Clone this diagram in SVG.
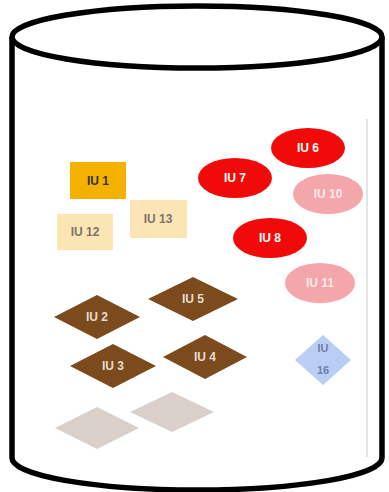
<svg xmlns="http://www.w3.org/2000/svg" width="389" height="492" viewBox="0 0 389 492">
<style>
.cyl{fill:none;stroke:#000;stroke-width:5.5}
text{font-family:"Liberation Sans",Arial,sans-serif;font-size:12px;font-weight:bold;text-anchor:middle;dominant-baseline:central}
.red{fill:#F00A0A}
.pink{fill:#F4A7AA}
.brown{fill:#7B4B1E}
.ghost{fill:#D9D0CB}
.wt{fill:#fff}
.pt{fill:#FCE9EA}
.bt{fill:#E8DCCF}
.dt{fill:#3a3020}
.gt{fill:#7a7468}
</style>
<rect width="389" height="492" fill="#fff"/>
<g id="cylinder">
<path class="cyl" d="M12,37 L12,458 A185,32 0 0 0 382,458 L382,37"/>
<ellipse class="cyl" cx="197" cy="37" rx="185" ry="31"/>
</g>
<line x1="367" y1="119" x2="367" y2="457" stroke="#dcdcdc" stroke-width="1.5"/>
<g id="connectors"></g>
<g id="IU1"><rect x="70" y="162" width="56" height="37" fill="#F5B100"/><text class="dt" x="98" y="181">IU 1</text></g>
<g id="IU12"><rect x="57" y="214" width="56" height="36" fill="#FCE5B4"/><text class="gt" x="85" y="232">IU 12</text></g>
<g id="IU13"><rect x="130" y="200" width="57" height="38" fill="#FCE5B4"/><text class="gt" x="158" y="219">IU 13</text></g>
<g id="IU6"><ellipse class="red" cx="308" cy="148" rx="37" ry="20"/><text class="wt" x="308" y="148">IU 6</text></g>
<g id="IU7"><ellipse class="red" cx="235" cy="178" rx="37" ry="20"/><text class="wt" x="235" y="178">IU 7</text></g>
<g id="IU10"><ellipse class="pink" cx="328" cy="194" rx="35" ry="20"/><text class="pt" x="328" y="194">IU 10</text></g>
<g id="IU8"><ellipse class="red" cx="270" cy="238" rx="37" ry="20"/><text class="wt" x="270" y="238">IU 8</text></g>
<g id="IU11"><ellipse class="pink" cx="320" cy="283" rx="35" ry="20"/><text class="pt" x="320" y="283">IU 11</text></g>
<g id="IU2"><polygon class="brown" points="54,317 97,295 140,317 97,339"/><text class="bt" x="97" y="317">IU 2</text></g>
<g id="IU5"><polygon class="brown" points="148,299 193,277 238,299 193,321"/><text class="bt" x="193" y="299">IU 5</text></g>
<g id="IU3"><polygon class="brown" points="70,366 113,344 156,366 113,388"/><text class="bt" x="113" y="366">IU 3</text></g>
<g id="IU4"><polygon class="brown" points="163,357 205,335 247,357 205,379"/><text class="bt" x="205" y="357">IU 4</text></g>
<g id="ghost1"><polygon class="ghost" points="55,428 97,407 139,428 97,449"/></g>
<g id="ghost2"><polygon class="ghost" points="130,412 172,392 214,412 172,432"/></g>
<g id="IU16"><polygon fill="#B9CDF5" points="295,360 323,335 351,360 323,385"/><text fill="#6f7fa8" x="323" y="348" style="font-size:11px">IU</text><text fill="#6f7fa8" x="323" y="370" style="font-size:11px">16</text></g>
</svg>
